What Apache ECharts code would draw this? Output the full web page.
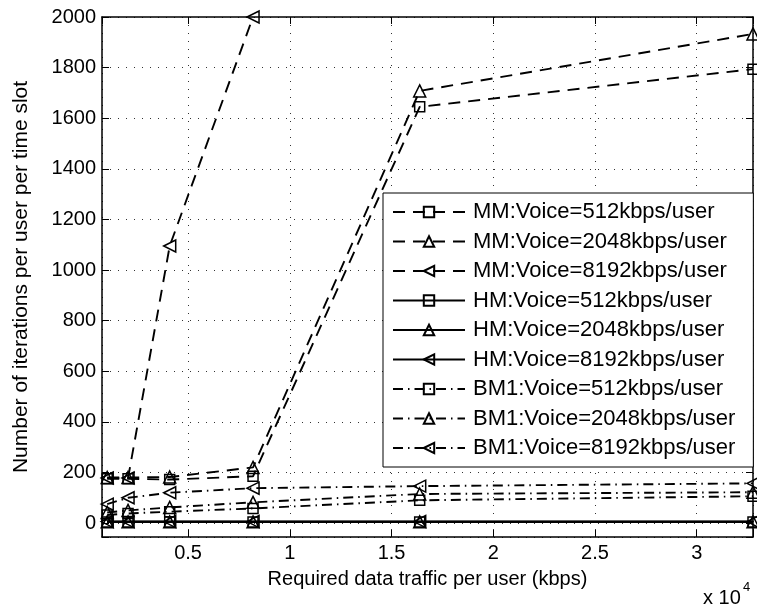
<!DOCTYPE html>
<html>
<head>
<meta charset="utf-8">
<script src="https://cdn.jsdelivr.net/npm/echarts@6/dist/echarts.min.js"></script>
<style>
  html, body { margin: 0; padding: 0; background: #fff; }
  #chart { width: 757px; height: 607px; }
</style>
</head>
<body>
<div id="chart"></div>
<script>
var FONT = '"Liberation Sans", Arial, Helvetica, sans-serif'

// required data traffic per user (kbps)
var traffic = [1024, 2048, 4096, 8192, 16384, 32768]

// iterations per user per time slot
var mm512 = [175, 175, 172, 185, 1645, 1794]
var mm2048 = [180, 180, 182, 220, 1708, 1933]
var mm8192 = [178, 178, 1095, 2000]
var hm512 = [4, 4, 4, 4, 4, 4]
var hm2048 = [5, 5, 5, 5, 5, 5]
var hm8192 = [6, 6, 6, 6, 6, 6]
var bm512 = [32, 38, 45, 58, 90, 106]
var bm2048 = [42, 50, 62, 82, 115, 122]
var bm8192 = [75, 100, 120, 138, 146, 157]

var seriesNames = [
  'MM:Voice=512kbps/user',
  'MM:Voice=2048kbps/user',
  'MM:Voice=8192kbps/user',
  'HM:Voice=512kbps/user',
  'HM:Voice=2048kbps/user',
  'HM:Voice=8192kbps/user',
  'BM1:Voice=512kbps/user',
  'BM1:Voice=2048kbps/user',
  'BM1:Voice=8192kbps/user'
]

var SQUARE = 'rect'
var TRIANGLE = 'triangle'
var LEFT_TRI = 'path://M0,5L10,0L10,10Z'

var DASH = [12, 8]
var SOLID = 'solid'
var DASHDOT = [10, 5, 1.5, 5]

var myChart = echarts.init(document.getElementById('chart'))

function makeSeries(name, values, symbol, size, lineType) {
  return {
    name: name,
    type: 'line',
    clip: false,
    symbol: symbol,
    symbolSize: size,
    lineStyle: { color: '#000', width: 1.9, type: lineType },
    itemStyle: { color: 'rgba(0,0,0,0)', borderColor: '#000', borderWidth: 1.5 },
    emphasis: { disabled: true },
    data: values.map(function (v, i) {
      return [traffic[i], v]
    })
  }
}

var series = [
  makeSeries(seriesNames[0], mm512, SQUARE, 10, DASH),
  makeSeries(seriesNames[1], mm2048, TRIANGLE, 12, DASH),
  makeSeries(seriesNames[2], mm8192, LEFT_TRI, 12, DASH),
  makeSeries(seriesNames[3], hm512, SQUARE, 10, SOLID),
  makeSeries(seriesNames[4], hm2048, TRIANGLE, 12, SOLID),
  makeSeries(seriesNames[5], hm8192, LEFT_TRI, 12, SOLID),
  makeSeries(seriesNames[6], bm512, SQUARE, 10, DASHDOT),
  makeSeries(seriesNames[7], bm2048, TRIANGLE, 12, DASHDOT),
  makeSeries(seriesNames[8], bm8192, LEFT_TRI, 12, DASHDOT)
]

var tickStyle = { show: true, inside: true, length: 7, lineStyle: { color: '#000', width: 1 } }
var frameLine = { show: true, onZero: false, lineStyle: { color: '#000', width: 1.5 } }
var gridLine = { show: true, lineStyle: { color: '#333', width: 1, type: [1, 7] } }

var option = {
  animation: false,
  backgroundColor: '#fff',
  textStyle: { fontFamily: FONT },
  grid: { left: 102, top: 17, right: 4, bottom: 70, containLabel: false, outerBoundsMode: 'none' },
  legend: {
    orient: 'vertical',
    left: 383,
    top: 193,
    backgroundColor: '#fff',
    borderColor: '#000',
    borderWidth: 1,
    borderRadius: 0,
    padding: [8, 18, 8, 9],
    itemWidth: 72,
    itemHeight: 13,
    itemGap: 7.5,
    selectedMode: false,
    textStyle: { fontFamily: FONT, fontSize: 22, color: '#000', padding: [0, 0, 0, 3] },
    data: seriesNames
  },
  xAxis: [
    {
      type: 'value',
      min: 768,
      max: 32768,
      name: 'Required data traffic per user (kbps)',
      nameLocation: 'middle',
      nameGap: 32,
      nameTextStyle: { fontFamily: FONT, fontSize: 20, color: '#000' },
      axisLine: frameLine,
      axisTick: tickStyle,
      splitLine: gridLine,
      axisLabel: {
        color: '#000',
        fontFamily: FONT,
        fontSize: 20,
        margin: 6,
        formatter: function (v) {
          return v % 5000 === 0 ? String(v / 10000) : ''
        }
      }
    },
    {
      type: 'value',
      position: 'top',
      min: 768,
      max: 32768,
      axisLine: frameLine,
      axisTick: tickStyle,
      axisLabel: { show: false },
      splitLine: { show: false }
    }
  ],
  yAxis: [
    {
      type: 'value',
      min: -55,
      max: 2000,
      splitNumber: 10,
      name: 'Number of iterations per user per time slot',
      nameLocation: 'middle',
      nameGap: 70,
      nameTextStyle: { fontFamily: FONT, fontSize: 21, color: '#000' },
      axisLine: frameLine,
      axisTick: tickStyle,
      splitLine: gridLine,
      axisLabel: {
        color: '#000',
        fontFamily: FONT,
        fontSize: 20,
        margin: 6,
        formatter: function (v) {
          return v % 200 === 0 ? String(v) : ''
        }
      }
    },
    {
      type: 'value',
      position: 'right',
      min: -55,
      max: 2000,
      splitNumber: 10,
      axisLine: frameLine,
      axisTick: tickStyle,
      axisLabel: { show: false },
      splitLine: { show: false }
    }
  ],
  graphic: [
    { type: 'text', left: 703, top: 588, style: { text: 'x 10', fontFamily: FONT, fontSize: 20, fill: '#000' } },
    { type: 'text', left: 743, top: 581, style: { text: '4', fontFamily: FONT, fontSize: 13, fill: '#000' } }
  ],
  series: series
}

myChart.setOption(option)
</script>
</body>
</html>
